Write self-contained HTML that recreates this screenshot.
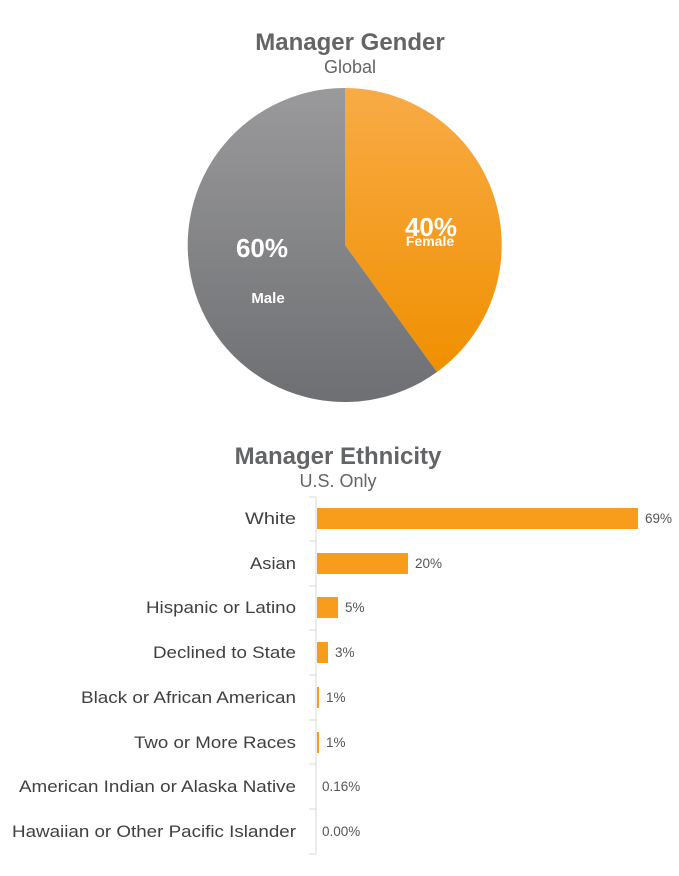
<!DOCTYPE html>
<html><head><style>
body{margin:0;background:#fff;}
svg text{font-family:"Liberation Sans",sans-serif;}
</style></head><body>
<svg width="679" height="871" viewBox="0 0 679 871" xmlns="http://www.w3.org/2000/svg">
<defs>
<linearGradient id="og" x1="0" y1="0" x2="0" y2="1"><stop offset="0" stop-color="#f8ab46"/><stop offset="1" stop-color="#f09000"/></linearGradient>
<linearGradient id="gg" x1="0" y1="0" x2="0" y2="1"><stop offset="0" stop-color="#9a9a9c"/><stop offset="1" stop-color="#6e6f72"/></linearGradient>
</defs>
<text x="350" y="50" text-anchor="middle" font-size="24" font-weight="bold" fill="#636466">Manager Gender</text>
<text x="350" y="73" text-anchor="middle" font-size="18" fill="#636466">Global</text>
<path d="M345,245 L345,88 A157,157 0 0 1 437,372 Z" fill="url(#og)"/>
<path d="M345,245 L437,372 A157,157 0 1 1 345,88 Z" fill="url(#gg)"/>
<text x="431" y="236" text-anchor="middle" font-size="26" font-weight="bold" fill="#fff">40%</text>
<text x="430" y="246" text-anchor="middle" font-size="14" font-weight="bold" fill="#fff">Female</text>
<text x="262" y="257" text-anchor="middle" font-size="26" font-weight="bold" fill="#fff">60%</text>
<text x="268" y="303" text-anchor="middle" font-size="15" font-weight="bold" fill="#fff">Male</text>
<text x="338" y="464" text-anchor="middle" font-size="24" font-weight="bold" fill="#636466">Manager Ethnicity</text>
<text x="338" y="487" text-anchor="middle" font-size="18" fill="#636466">U.S. Only</text>
<line x1="316" y1="497" x2="316" y2="854" stroke="#d9d9d9"/>
<g stroke="#d9d9d9">
<line x1="309" y1="497" x2="316" y2="497"/><line x1="309" y1="541" x2="316" y2="541"/><line x1="309" y1="586" x2="316" y2="586"/><line x1="309" y1="630" x2="316" y2="630"/><line x1="309" y1="675" x2="316" y2="675"/><line x1="309" y1="720" x2="316" y2="720"/><line x1="309" y1="764" x2="316" y2="764"/><line x1="309" y1="809" x2="316" y2="809"/><line x1="309" y1="854" x2="316" y2="854"/>
</g>
<g fill="#f89c1c">
<rect x="317" y="508" width="321" height="21"/>
<rect x="317" y="553" width="91" height="21"/>
<rect x="317" y="597" width="21" height="21"/>
<rect x="317" y="642" width="11" height="21"/>
<rect x="317" y="687" width="2" height="21"/>
<rect x="317" y="732" width="2" height="21"/>
</g>
<g font-size="17" fill="#404040" lengthAdjust="spacingAndGlyphs">
<text x="245" y="524" textLength="51" lengthAdjust="spacingAndGlyphs">White</text>
<text x="250" y="569" textLength="46" lengthAdjust="spacingAndGlyphs">Asian</text>
<text x="146" y="613" textLength="150" lengthAdjust="spacingAndGlyphs">Hispanic or Latino</text>
<text x="153" y="658" textLength="143" lengthAdjust="spacingAndGlyphs">Declined to State</text>
<text x="81" y="703" textLength="215" lengthAdjust="spacingAndGlyphs">Black or African American</text>
<text x="134" y="748" textLength="162" lengthAdjust="spacingAndGlyphs">Two or More Races</text>
<text x="19" y="792" textLength="277" lengthAdjust="spacingAndGlyphs">American Indian or Alaska Native</text>
<text x="12" y="837" textLength="284" lengthAdjust="spacingAndGlyphs">Hawaiian or Other Pacific Islander</text>
</g>
<g font-size="13.5" fill="#555">
<text x="645" y="523">69%</text>
<text x="415" y="568">20%</text>
<text x="345" y="612">5%</text>
<text x="335" y="657">3%</text>
<text x="326" y="702">1%</text>
<text x="326" y="747">1%</text>
<text x="322" y="791">0.16%</text>
<text x="322" y="836">0.00%</text>
</g>
</svg>
</body></html>
